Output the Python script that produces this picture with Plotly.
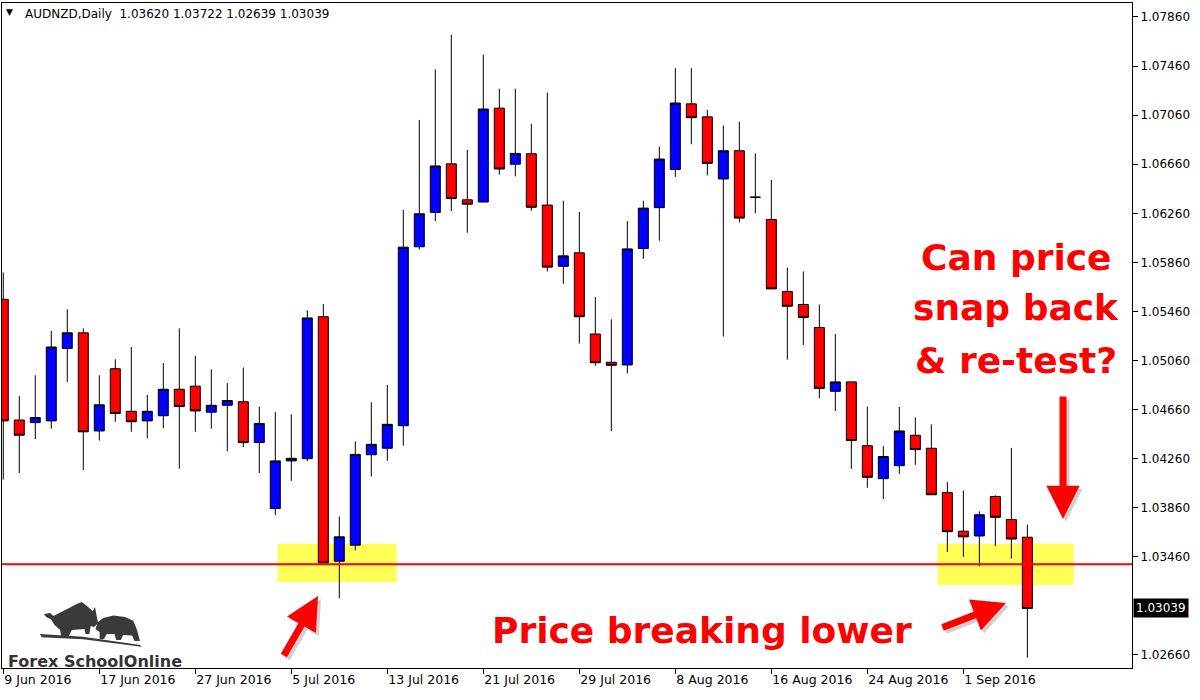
import plotly.graph_objects as go

# trading days shown on the chart (no weekends)
dates = [
    '2016-06-09', '2016-06-10', '2016-06-13', '2016-06-14', '2016-06-15', '2016-06-16',
    '2016-06-17', '2016-06-20', '2016-06-21', '2016-06-22', '2016-06-23', '2016-06-24',
    '2016-06-27', '2016-06-28', '2016-06-29', '2016-06-30', '2016-07-01', '2016-07-04',
    '2016-07-05', '2016-07-06', '2016-07-07', '2016-07-08', '2016-07-11', '2016-07-12',
    '2016-07-13', '2016-07-14', '2016-07-15', '2016-07-18', '2016-07-19', '2016-07-20',
    '2016-07-21', '2016-07-22', '2016-07-25', '2016-07-26', '2016-07-27', '2016-07-28',
    '2016-07-29', '2016-08-01', '2016-08-02', '2016-08-03', '2016-08-04', '2016-08-05',
    '2016-08-08', '2016-08-09', '2016-08-10', '2016-08-11', '2016-08-12', '2016-08-15',
    '2016-08-16', '2016-08-17', '2016-08-18', '2016-08-19', '2016-08-22', '2016-08-23',
    '2016-08-24', '2016-08-25', '2016-08-26', '2016-08-29', '2016-08-30', '2016-08-31',
    '2016-09-01', '2016-09-02', '2016-09-05', '2016-09-06', '2016-09-07',
]

open_ = [
    1.05559, 1.04575, 1.04554, 1.04568, 1.05159, 1.05286, 1.04486, 1.04993, 1.04646, 1.04568,
    1.04610, 1.04826, 1.04851, 1.04639, 1.04695, 1.04724, 1.04391, 1.03853, 1.04242, 1.04260,
    1.05417, 1.03424, 1.03555, 1.04292, 1.04345, 1.04529, 1.05987, 1.06267, 1.06663, 1.06370,
    1.06352, 1.07117, 1.06660, 1.06745, 1.06327, 1.05828, 1.05938, 1.05276, 1.05046, 1.05024,
    1.05973, 1.06306, 1.06617, 1.07152, 1.07046, 1.06540, 1.06770, 1.06391, 1.06210, 1.05623,
    1.05517, 1.05329, 1.04809, 1.04886, 1.04366, 1.04097, 1.04203, 1.04451, 1.04345, 1.03984,
    1.03669, 1.03630, 1.03952, 1.03764, 1.03620,
]
high = [
    1.05778, 1.04770, 1.04940, 1.05301, 1.05478, 1.05322, 1.04940, 1.05070, 1.05170, 1.04780,
    1.05039, 1.05322, 1.05099, 1.04989, 1.04876, 1.05003, 1.04685, 1.04639, 1.04621, 1.05470,
    1.05520, 1.03789, 1.04401, 1.04720, 1.04862, 1.06288, 1.07021, 1.07432, 1.07715, 1.06777,
    1.07552, 1.07276, 1.07276, 1.06989, 1.07244, 1.06363, 1.06270, 1.05577, 1.05396, 1.06196,
    1.06363, 1.06802, 1.07442, 1.07442, 1.07102, 1.06975, 1.07007, 1.06748, 1.06532, 1.05817,
    1.05786, 1.05517, 1.05276, 1.04886, 1.04685, 1.04362, 1.04681, 1.04596, 1.04540, 1.04069,
    1.04001, 1.03831, 1.03962, 1.04348, 1.03722,
]
low = [
    1.04090, 1.04143, 1.04419, 1.04504, 1.04886, 1.04168, 1.04408, 1.04561, 1.04479, 1.04426,
    1.04508, 1.04178, 1.04479, 1.04504, 1.04320, 1.04355, 1.04143, 1.03800, 1.04079, 1.04239,
    1.03405, 1.03123, 1.03513, 1.04115, 1.04242, 1.04366, 1.05966, 1.06196, 1.06278, 1.06101,
    1.06350, 1.06575, 1.06561, 1.06281, 1.05786, 1.05686, 1.05198, 1.05017, 1.04486, 1.04954,
    1.05888, 1.06037, 1.06557, 1.06823, 1.06568, 1.05255, 1.06186, 1.06260, 1.05644, 1.05067,
    1.05187, 1.04752, 1.04649, 1.04178, 1.04023, 1.03931, 1.04136, 1.04210, 1.03966, 1.03499,
    1.03460, 1.03382, 1.03548, 1.03446, 1.02639,
]
close = [
    1.04568, 1.04451, 1.04596, 1.05170, 1.05286, 1.04479, 1.04699, 1.04628, 1.04561, 1.04646,
    1.04826, 1.04685, 1.04649, 1.04695, 1.04734, 1.04391, 1.04547, 1.04242, 1.04263, 1.05407,
    1.03410, 1.03623, 1.04295, 1.04377, 1.04540, 1.05984, 1.06256, 1.06646, 1.06380, 1.06334,
    1.07110, 1.06621, 1.06748, 1.06309, 1.05821, 1.05913, 1.05417, 1.05042, 1.05021, 1.05970,
    1.06302, 1.06702, 1.07159, 1.07039, 1.06667, 1.06770, 1.06221, 1.06391, 1.05644, 1.05502,
    1.05410, 1.04833, 1.04886, 1.04408, 1.04108, 1.04278, 1.04486, 1.04334, 1.03966, 1.03665,
    1.03623, 1.03803, 1.03782, 1.03605, 1.03039,
]

tick_dates = dates[::6]
tick_text = ['9 Jun 2016', '17 Jun 2016', '27 Jun 2016', '5 Jul 2016', '13 Jul 2016',
             '21 Jul 2016', '29 Jul 2016', '8 Aug 2016', '16 Aug 2016', '24 Aug 2016',
             '1 Sep 2016']
price_ticks = [1.07860, 1.07460, 1.07060, 1.06660, 1.06260, 1.05860, 1.05460,
               1.05060, 1.04660, 1.04260, 1.03860, 1.03460, 1.02660]

support_level = 1.0340

# plot area in screen pixels (used only to place the drawn markup)
PLOT_L, PLOT_R, PLOT_T, PLOT_B = 2, 1132, 3, 668


def px(x):
    return (x - PLOT_L) / (PLOT_R - PLOT_L)


def py(y):
    return (PLOT_B - y) / (PLOT_B - PLOT_T)


def pix_path(points):
    return 'M ' + ' L '.join(f'{px(x):.4f},{py(y):.4f}' for x, y in points) + ' Z'


def add_arrow(fig, tail, tip):
    # soft shadow then the red arrow
    for dx, color in [(3, 'rgba(0,0,0,0.18)'), (0, '#FF0000')]:
        fig.add_annotation(
            x=px(tip[0] + dx), y=py(tip[1] + dx), xref='paper', yref='paper',
            ax=tail[0] - tip[0], ay=tail[1] - tip[1], axref='pixel', ayref='pixel',
            text='', showarrow=True, arrowhead=2, arrowsize=0.95, arrowwidth=7,
            arrowcolor=color, standoff=0
        )


def create_chart():
    fig = go.Figure()

    fig.add_trace(go.Candlestick(
        x=dates, open=open_, high=high, low=low, close=close,
        increasing=dict(fillcolor='#0000FF', line=dict(color='black', width=1)),
        decreasing=dict(fillcolor='#FF0000', line=dict(color='black', width=1)),
        whiskerwidth=0,
        showlegend=False,
        hoverinfo='skip'
    ))

    # yellow zones
    for x0, x1, y0, y1 in [(17.15, 24.59, 1.03254, 1.03566), (58.4, 66.9, 1.03230, 1.03566)]:
        fig.add_shape(type='rect', xref='x', yref='y', x0=x0, x1=x1, y0=y0, y1=y1,
                      fillcolor='#FFFF55', line=dict(width=0), layer='below')

    # support line
    fig.add_shape(type='line', xref='paper', yref='y', x0=0, x1=1,
                  y0=support_level, y1=support_level,
                  line=dict(color='#FF0000', width=2), layer='above')

    # logo silhouette (rough)
    logo_parts = [
        [(40, 634), (83, 636.7), (140, 645), (141.7, 646.7), (83, 639.3), (41.7, 637.3)],
        [(44, 614), (50, 613), (53.3, 616), (63.3, 611), (76.7, 604), (81.7, 602),
         (87.3, 606.3), (92.7, 611.3), (95, 607), (96.5, 615), (98, 623.3), (94, 627),
         (90.7, 626), (89.3, 634), (85.5, 634), (84.5, 629), (71.7, 630), (68.3, 637),
         (61.2, 637), (60.2, 630), (54.5, 625), (51.2, 619.5), (46.2, 617)],
        [(95.5, 629), (98, 622), (103.3, 618), (113.3, 615.5), (125, 617),
         (133.3, 620.7), (137, 630), (140, 641), (134.5, 641), (132.2, 635.5), (123.3, 635),
         (120.7, 640), (116.2, 640), (114.6, 634), (106.7, 634), (104, 639),
         (99.6, 639), (99.6, 632)],
    ]
    for pts in logo_parts:
        fig.add_shape(type='path', xref='paper', yref='paper', path=pix_path(pts),
                      fillcolor='#3a3a3a', line=dict(width=0), layer='above')

    fig.add_annotation(x=px(6), y=py(661), xref='paper', yref='paper',
                       text='<b>Forex SchoolOnline</b>', showarrow=False,
                       xanchor='left', yanchor='middle',
                       font=dict(family='DejaVu Sans', size=16, color='#333333'))

    # header
    fig.add_annotation(x=px(4), y=py(12), xref='paper', yref='paper', text='▼',
                       showarrow=False, xanchor='left', yanchor='middle',
                       font=dict(family='DejaVu Sans', size=9, color='black'))
    fig.add_annotation(x=px(23), y=py(14), xref='paper', yref='paper',
                       text=f'AUDNZD,Daily  {open_[-1]:.5f} {high[-1]:.5f} {low[-1]:.5f} {close[-1]:.5f}',
                       showarrow=False, xanchor='left', yanchor='middle',
                       font=dict(family='DejaVu Sans', size=12, color='black'))

    # red commentary
    red_font = dict(family='DejaVu Sans', size=36, color='#FF0000')
    for line, y in [('Can price', 257), ('snap back', 307), ('&amp; re-test?', 360)]:
        fig.add_annotation(x=px(1016), y=py(y), xref='paper', yref='paper',
                           text=f'<b>{line}</b>', showarrow=False,
                           xanchor='center', yanchor='middle', font=red_font)
    fig.add_annotation(x=px(702), y=py(630), xref='paper', yref='paper',
                       text='<b>Price breaking lower</b>', showarrow=False,
                       xanchor='center', yanchor='middle', font=red_font)

    add_arrow(fig, (283, 657), (318, 596))
    add_arrow(fig, (941, 628), (1006, 603))
    add_arrow(fig, (1063, 395), (1063, 519))

    # last price tag
    fig.add_annotation(x=1, y=close[-1], xref='paper', yref='y', xshift=1,
                       text=f'{close[-1]:.5f}', showarrow=False,
                       xanchor='left', yanchor='middle', bgcolor='black', borderpad=2,
                       font=dict(family='DejaVu Sans', size=12, color='white'))

    fig.update_layout(
        width=1200, height=700,
        margin=dict(l=PLOT_L, r=1200 - PLOT_R, t=PLOT_T, b=700 - PLOT_B),
        paper_bgcolor='white', plot_bgcolor='white',
        boxgap=0.375, boxgroupgap=0,
        font=dict(family='DejaVu Sans', color='black'),
        xaxis=dict(
            type='category', range=[-0.08, 70.54],
            tickvals=tick_dates, ticktext=tick_text,
            ticks='outside', ticklen=5, tickcolor='black',
            ticklabelposition='outside right',
            tickfont=dict(size=12.5, color='black'),
            showgrid=False, zeroline=False,
            showline=True, linecolor='black', linewidth=1, mirror=True,
            rangeslider=dict(visible=False)
        ),
        yaxis=dict(
            side='right', range=[1.02554, 1.07974],
            tickvals=price_ticks, tickformat='.5f',
            ticks='outside', ticklen=5, tickcolor='black',
            tickfont=dict(size=12, color='black'),
            showgrid=False, zeroline=False,
            showline=True, linecolor='black', linewidth=1, mirror=True
        ),
        hovermode=False
    )

    return fig


fig = create_chart()
fig.write_html("out.html", config={'displayModeBar': False},
               post_script="document.body.style.margin='0';")
